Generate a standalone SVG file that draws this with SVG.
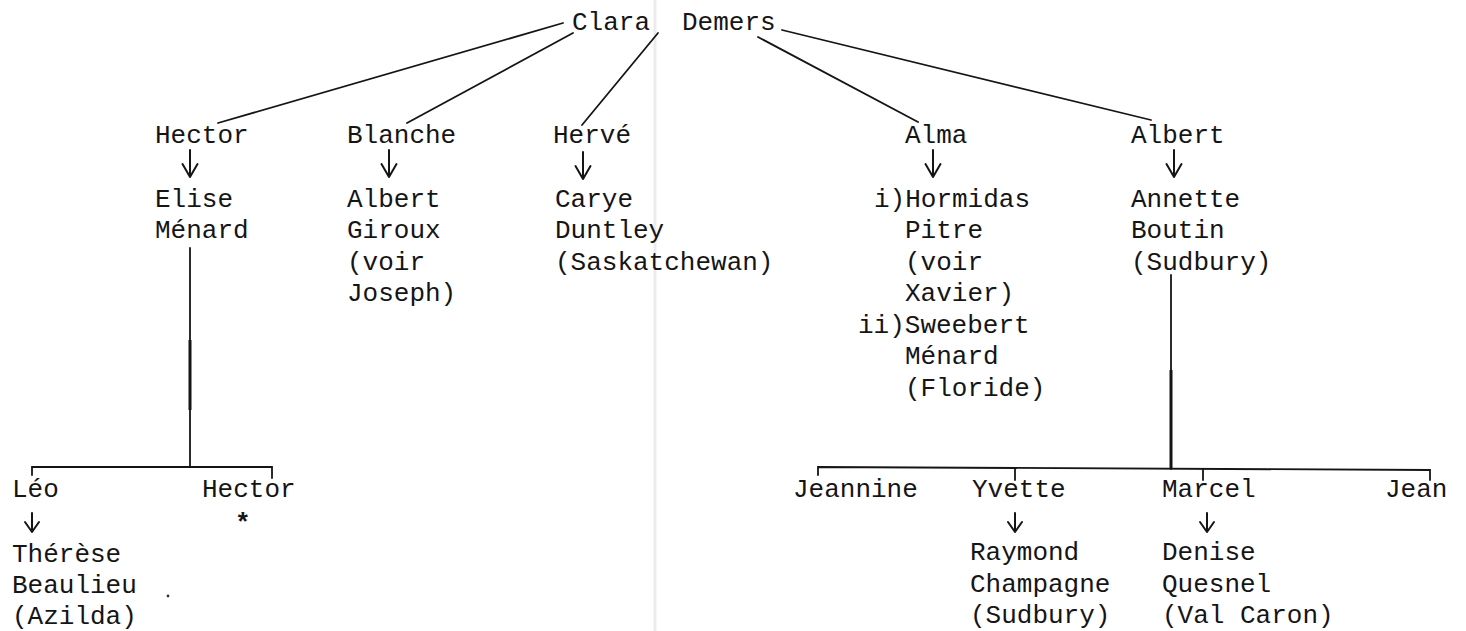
<svg xmlns="http://www.w3.org/2000/svg" xmlns:xlink="http://www.w3.org/1999/xlink" width="1466" height="631" viewBox="0 0 1466 631">
<style>
.t{font-family:"Liberation Mono","DejaVu Sans Mono",monospace;font-size:26px;fill:#151515}
.ln{stroke:#151515;stroke-width:1.8;fill:none;stroke-linecap:round}
.thick{stroke:#151515;stroke-width:3;fill:none}
.arr{stroke:#151515;stroke-width:2;fill:none;stroke-linecap:round;stroke-linejoin:round}
</style>
<defs>
<path id="arrL" class="arr" d="M0,0 V27 M-7.5,14 L0,27 L7.5,14"/>
<path id="arrS" class="arr" d="M0,0 V19 M-7,9 L0,19 L7,9"/>
</defs>
<rect width="1466" height="631" fill="#ffffff"/>
<line x1="655" y1="0" x2="655" y2="631" stroke="#ececec" stroke-width="3"/>

<g id="connectors">
<line class="ln" x1="563" y1="23" x2="218" y2="123"/>
<line class="ln" x1="573" y1="33" x2="407" y2="123"/>
<line class="ln" x1="658" y1="33" x2="582" y2="125"/>
<line class="ln" x1="758" y1="37" x2="918" y2="122"/>
<line class="ln" x1="782" y1="30" x2="1151" y2="120"/>
<use xlink:href="#arrL" x="190" y="150"/>
<use xlink:href="#arrL" x="389" y="150"/>
<use xlink:href="#arrL" x="583" y="152"/>
<use xlink:href="#arrL" x="933" y="150"/>
<use xlink:href="#arrL" x="1174" y="150"/>
<line class="ln" x1="190" y1="248" x2="190" y2="467"/>
<line class="thick" x1="190" y1="340" x2="190" y2="410"/>
<path class="ln" d="M32,475 V467 H272 V478"/>
<use xlink:href="#arrS" x="32" y="513"/>
<line class="ln" x1="1171" y1="275" x2="1171" y2="469"/>
<line class="thick" x1="1171" y1="370" x2="1171" y2="468"/>
<path class="ln" d="M818,475 V467 L1430,470 V480"/>
<line class="ln" x1="1015" y1="469" x2="1015" y2="480"/>
<line class="ln" x1="1203" y1="469" x2="1203" y2="480"/>
<use xlink:href="#arrS" x="1015" y="513"/>
<use xlink:href="#arrS" x="1207" y="513"/>
</g>

<g id="clara-demers"><text class="t" x="572" y="30">Clara</text><text class="t" x="682" y="30">Demers</text></g>

<g id="hector"><text class="t" x="155" y="143">Hector</text></g>
<g id="elise-menard"><text class="t" x="155" y="207">Elise</text><text class="t" x="155" y="238">Ménard</text></g>

<g id="blanche"><text class="t" x="347" y="143">Blanche</text></g>
<g id="albert-giroux"><text class="t" x="347" y="207">Albert</text><text class="t" x="347" y="238">Giroux</text><text class="t" x="347" y="270">(voir</text><text class="t" x="347" y="301">Joseph)</text></g>

<g id="herve"><text class="t" x="553" y="143">Hervé</text></g>
<g id="carye-duntley"><text class="t" x="555" y="207">Carye</text><text class="t" x="555" y="238">Duntley</text><text class="t" x="555" y="270">(Saskatchewan)</text></g>

<g id="alma"><text class="t" x="905" y="143">Alma</text></g>
<g id="alma-spouses"><text class="t" x="874" y="207">i)Hormidas</text><text class="t" x="905" y="238">Pitre</text><text class="t" x="905" y="270">(voir</text><text class="t" x="905" y="301">Xavier)</text><text class="t" x="858" y="333">ii)Sweebert</text><text class="t" x="905" y="364">Ménard</text><text class="t" x="905" y="396">(Floride)</text></g>

<g id="albert"><text class="t" x="1131" y="143">Albert</text></g>
<g id="annette-boutin"><text class="t" x="1131" y="207">Annette</text><text class="t" x="1131" y="238">Boutin</text><text class="t" x="1131" y="270">(Sudbury)</text></g>

<g id="leo"><text class="t" x="12" y="497">Léo</text></g>
<g id="therese-beaulieu"><text class="t" x="12" y="562">Thérèse</text><text class="t" x="12" y="593">Beaulieu</text><text class="t" x="12" y="624">(Azilda)</text></g>
<circle cx="168" cy="596" r="1.4" fill="#333"/>
<g id="hector-jr"><text class="t" x="202" y="497">Hector</text><text class="t" x="235" y="531" font-weight="bold">*</text></g>

<g id="jeannine"><text class="t" x="793" y="497">Jeannine</text></g>
<g id="yvette"><text class="t" x="972" y="497">Yvette</text></g>
<g id="raymond-champagne"><text class="t" x="970" y="560">Raymond</text><text class="t" x="970" y="592">Champagne</text><text class="t" x="970" y="623">(Sudbury)</text></g>
<g id="marcel"><text class="t" x="1162" y="497">Marcel</text></g>
<g id="denise-quesnel"><text class="t" x="1162" y="560">Denise</text><text class="t" x="1162" y="592">Quesnel</text><text class="t" x="1162" y="623">(Val Caron)</text></g>
<g id="jean"><text class="t" x="1385" y="497">Jean</text></g>
</svg>
